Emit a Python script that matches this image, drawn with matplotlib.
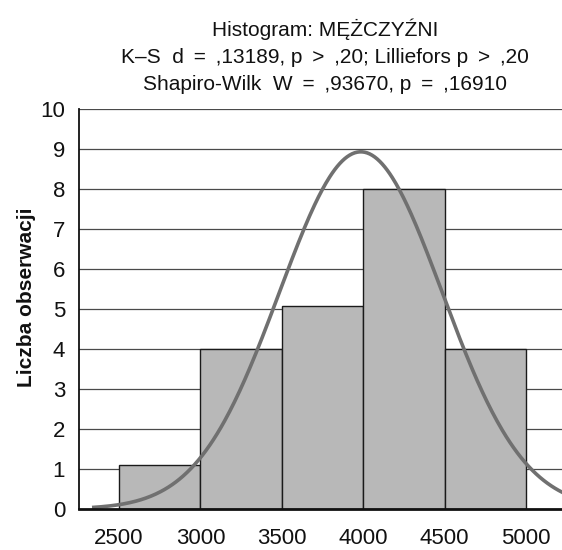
import numpy as np
import matplotlib
matplotlib.use("Agg")
import matplotlib.pyplot as plt

plt.rcParams['font.family'] = ['Liberation Sans', 'DejaVu Sans']

# Data
bin_edges = [2500, 3000, 3500, 4000, 4500, 5000]
counts = [1.1, 4, 5.07, 8, 4]
x_ticks = [2500, 3000, 3500, 4000, 4500, 5000]
y_ticks = [0, 1, 2, 3, 4, 5, 6, 7, 8, 9, 10]
# fitted normal curve parameters
curve_mean = 3985
curve_sd = 500
curve_peak = 8.93
curve_start = 2334
curve_end = 5400

TS = "\u2009"
title_lines = [
    "Histogram: MĘŻCZYŹNI",
    f"K–S  d {TS}={TS} ,13189, p {TS}>{TS} ,20; Lilliefors p {TS}>{TS} ,20",
    f"Shapiro-Wilk  W {TS}={TS} ,93670, p {TS}={TS} ,16910",
]
ylabel = "Liczba obserwacji"

W, H = 562, 550
fig = plt.figure(figsize=(W / 100, H / 100), dpi=100)
ax = fig.add_axes([79 / W, 41 / H, 1 - 79 / W, 400 / H])

# gridlines
for yv in y_ticks[1:]:
    ax.axhline(yv, color='#4a4a4a', lw=0.9, zorder=1)

lefts = np.array(bin_edges[:-1])
widths = np.diff(bin_edges)
ax.bar(lefts, counts, width=widths, align='edge', color='#b8b8b8',
       edgecolor='#1a1a1a', linewidth=1.0, zorder=2)

xs = np.linspace(curve_start, curve_end, 400)
ys = curve_peak * np.exp(-0.5 * ((xs - curve_mean) / curve_sd) ** 2)
ax.plot(xs, ys, color='#707070', lw=2.6, zorder=3, solid_capstyle='butt')

ax.set_xlim(2254, 5221)
ax.set_ylim(0, 10)
ax.set_xticks(x_ticks)
ax.set_yticks(y_ticks)
ax.tick_params(axis='both', length=0, labelsize=16, colors='#111111')
ax.tick_params(axis='x', pad=14)
ax.tick_params(axis='y', pad=10)

for s in ['top', 'right']:
    ax.spines[s].set_visible(False)
ax.spines['left'].set_linewidth(1.3)
ax.spines['bottom'].set_linewidth(2.0)
ax.spines['left'].set_color('#111111')
ax.spines['bottom'].set_color('#111111')
ax.spines['left'].set_zorder(4)
ax.spines['bottom'].set_zorder(4)

fig.text(27 / W, 1 - 297 / H, ylabel, rotation=90, ha='center', va='center',
         fontsize=15, fontweight='bold', color='#111111')

for line, base in zip(title_lines, [36, 63, 90]):
    fig.text(325 / W, 1 - base / H, line, ha='center', va='baseline',
             fontsize=15, color='#111111')

fig.savefig('out.png', dpi=100)
